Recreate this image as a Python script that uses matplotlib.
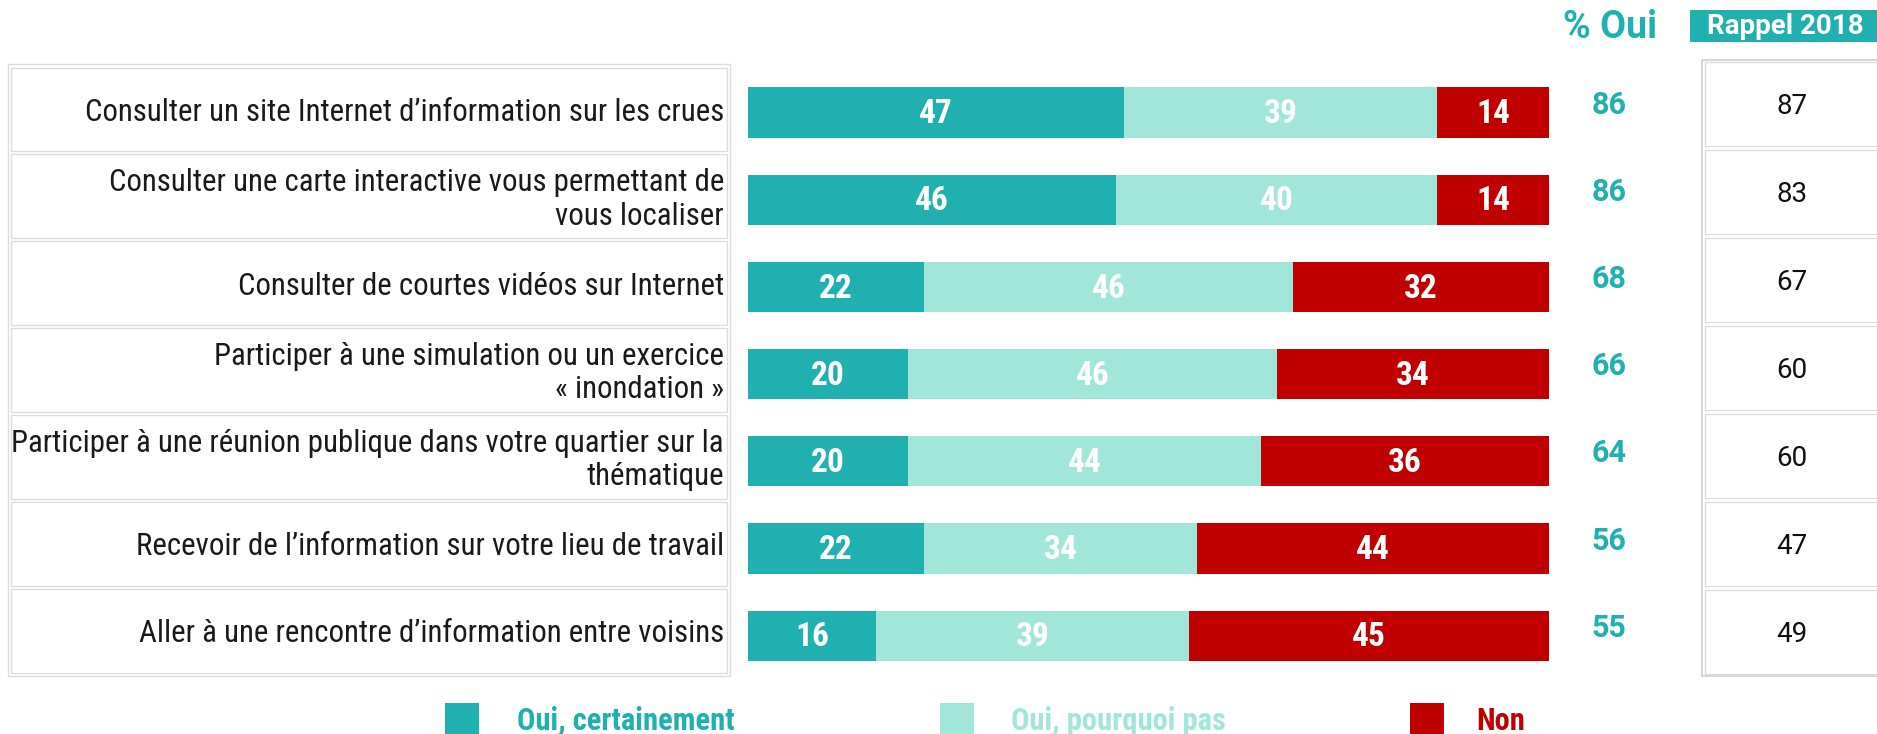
import matplotlib
matplotlib.use("Agg")
import matplotlib.pyplot as plt
from matplotlib.patches import Rectangle
from matplotlib import font_manager

# ---------------- data ----------------
categories = [
    "Consulter un site Internet d\u2019information sur les crues",
    "Consulter une carte interactive vous permettant de\nvous localiser",
    "Consulter de courtes vid\u00e9os sur Internet",
    "Participer \u00e0 une simulation ou un exercice\n\u00ab\u00a0inondation\u00a0\u00bb",
    "Participer \u00e0 une r\u00e9union publique dans votre quartier sur la\nth\u00e9matique",
    "Recevoir de l\u2019information sur votre lieu de travail",
    "Aller \u00e0 une rencontre d\u2019information entre voisins",
]
oui_certainement = [47, 46, 22, 20, 20, 22, 16]
oui_pourquoi_pas = [39, 40, 46, 46, 44, 34, 39]
non = [14, 14, 32, 34, 36, 44, 45]
pct_oui = [86, 86, 68, 66, 64, 56, 55]
rappel_2018 = [87, 83, 67, 60, 60, 47, 49]
series_names = ["Oui, certainement", "Oui, pourquoi pas", "Non"]

TEAL = "#1FB0AF"
LIGHT = "#A2E6DA"
RED = "#C00000"
GRID = "#DCDCDC"

names = {f.name for f in font_manager.fontManager.ttflist}
narrow = None
for cand in ["Roboto Condensed", "Liberation Sans Narrow", "Open Sans Condensed"]:
    if cand in names:
        narrow = cand
        break
COND = [narrow if narrow else "Roboto", "DejaVu Sans"]
WIDE = ["Roboto", "DejaVu Sans"]
plt.rcParams["font.family"] = COND

W, H = 1877, 734
fig = plt.figure(figsize=(W / 100, H / 100), dpi=100)
fig.patch.set_facecolor("white")

# overlay axes in pixel coordinates (top-left origin)
ov = fig.add_axes([0, 0, 1, 1])
ov.set_xlim(0, W)
ov.set_ylim(H, 0)
ov.axis("off")

n = len(categories)

# ---- label boxes ----
box_top, box_h = 66, 86.9
ov.add_patch(Rectangle((8, box_top - 2), 722, n * box_h + 4, fill=False,
                       ec=GRID, lw=1))
for i, lab in enumerate(categories):
    y0 = box_top + i * box_h
    ov.add_patch(Rectangle((11, y0 + 1.5), 716, box_h - 3, fill=False,
                           ec=GRID, lw=1))
    ov.text(724, y0 + box_h / 2 + 3, lab, ha="right", va="center",
            fontsize=22.2, color="#1a1a1a", linespacing=1.2)

# ---- bars ----
row_c0, row_h = 112.5, 87.2
top_px = row_c0 - row_h / 2
bot_px = row_c0 + (n - 0.5) * row_h
bx0, bx1 = 748, 1549
ax = fig.add_axes([bx0 / W, (H - bot_px) / H, (bx1 - bx0) / W, (bot_px - top_px) / H])
ax.set_xlim(0, 100)
ax.set_ylim(n - 0.5, -0.5)
ax.axis("off")
ax.patch.set_alpha(0)

ypos = list(range(n))
left = [0] * n
for vals, col in zip([oui_certainement, oui_pourquoi_pas, non], [TEAL, LIGHT, RED]):
    ax.barh(ypos, vals, left=left, height=0.575, color=col, edgecolor="none")
    for y, v, l in zip(ypos, vals, left):
        ax.text(l + v / 2, y + 0.02, str(v), ha="center", va="center",
                color="white", fontsize=24, fontweight="bold")
    left = [a + b for a, b in zip(left, vals)]

# ---- % Oui column ----
ov.text(1610, 27, "% Oui", ha="center", va="center", color=TEAL,
        fontsize=27, fontweight="bold", family=WIDE)
for i, v in enumerate(pct_oui):
    ov.text(1609, row_c0 + i * row_h - 8, str(v), ha="center", va="center",
            color=TEAL, fontsize=22, fontweight="bold", family=WIDE)

# ---- Rappel 2018 table ----
ov.add_patch(Rectangle((1690, 10), 200, 32, color=TEAL, lw=0))
ov.text(1785, 27, "Rappel 2018", ha="center", va="center", color="white",
        fontsize=20, fontweight="bold", family=WIDE)
t_top, t_bot = 60, 676
t_h = (t_bot - t_top) / n
ov.add_patch(Rectangle((1702, t_top), 200, t_bot - t_top, fill=False,
                       ec="#CFCFCF", lw=1.2))
for i, v in enumerate(rappel_2018):
    y0 = t_top + i * t_h
    ov.add_patch(Rectangle((1705, y0 + 2), 200, t_h - 4, fill=False,
                           ec=GRID, lw=1))
    ov.text(1792, y0 + t_h / 2 + 3, str(v), ha="center", va="center",
            color="#111111", fontsize=20, family=WIDE)

# ---- legend ----
leg_x_sq = [445, 940, 1410]
leg_x_tx = [517, 1011, 1476]
for name, col, xs, xt in zip(series_names, [TEAL, LIGHT, RED], leg_x_sq, leg_x_tx):
    ov.add_patch(Rectangle((xs, 703), 34, 40, color=col, lw=0))
    ov.text(xt, 721, name, ha="left", va="center", color=col,
            fontsize=22, fontweight="bold")

fig.savefig("out.png", dpi=100)
